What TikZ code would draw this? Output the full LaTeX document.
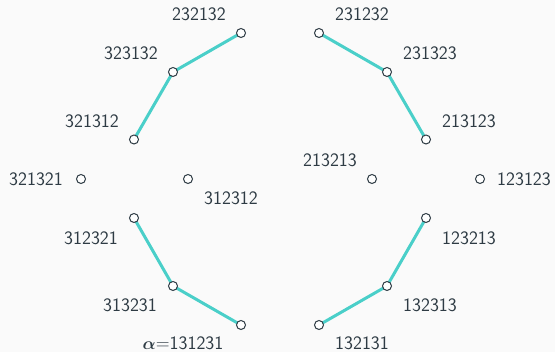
\documentclass[tikz,border=0pt]{standalone}
\usepackage{fontspec}
\usepackage{amsmath,bm}
\definecolor{txt}{HTML}{2E3B44}
\definecolor{teal}{HTML}{4ACFC9}
\definecolor{bg}{HTML}{FAFAFA}
\begin{document}
\begin{tikzpicture}[x=1pt,y=-1pt,
  vtx/.style={circle,draw=txt,fill=white,line width=1pt,minimum size=9pt,inner sep=0pt},
  lbl/.style={text=txt,inner sep=0pt,font=\fontsize{19}{22}\selectfont\sffamily},
  edge/.style={teal,line width=3pt}]
\fill[bg] (0,0) rectangle (555,352);
\useasboundingbox (0,0) rectangle (555,352);
% left group
\coordinate (a1) at (241,33);
\coordinate (a2) at (173,72);
\coordinate (a3) at (134,139.5);
\coordinate (a4) at (81,179);
\coordinate (a5) at (188,179);
\coordinate (a6) at (134,218);
\coordinate (a7) at (173,286);
\coordinate (a8) at (241,325);
% right group
\coordinate (b1) at (319,33);
\coordinate (b2) at (387,72);
\coordinate (b3) at (426,139.5);
\coordinate (b4) at (372,179);
\coordinate (b5) at (480,179);
\coordinate (b6) at (426,218);
\coordinate (b7) at (387,286);
\coordinate (b8) at (319,325);
\draw[edge] (a1) -- (a2) -- (a3);
\draw[edge] (a6) -- (a7) -- (a8);
\draw[edge] (b1) -- (b2) -- (b3);
\draw[edge] (b6) -- (b7) -- (b8);
\foreach \n in {a1,a2,a3,a4,a5,a6,a7,a8,b1,b2,b3,b4,b5,b6,b7,b8}
  \node[vtx] (v\n) at (\n) {};
% labels
\node[lbl] (la1) at (199,14) {232132};
\node[lbl] (la2) at (131,53) {323132};
\node[lbl] (la3) at (92,121) {321312};
\node[lbl] (la4) at (36,179.5) {321321};
\node[lbl] (la5) at (231,198) {312312};
\node[lbl] (la6) at (91,238) {312321};
\node[lbl] (la7) at (130,305) {313231};
\node[lbl] (la8) at (183,343) {$\bm{\alpha}$=131231};
\node[lbl] (lb1) at (362,14) {231232};
\node[lbl] (lb2) at (430,53) {231323};
\node[lbl] (lb3) at (469,121) {213123};
\node[lbl] (lb4) at (330,160) {213213};
\node[lbl] (lb5) at (524,179.5) {123123};
\node[lbl] (lb6) at (469,238) {123213};
\node[lbl] (lb7) at (430,305) {132313};
\node[lbl] (lb8) at (362,343) {132131};
\end{tikzpicture}
\end{document}
